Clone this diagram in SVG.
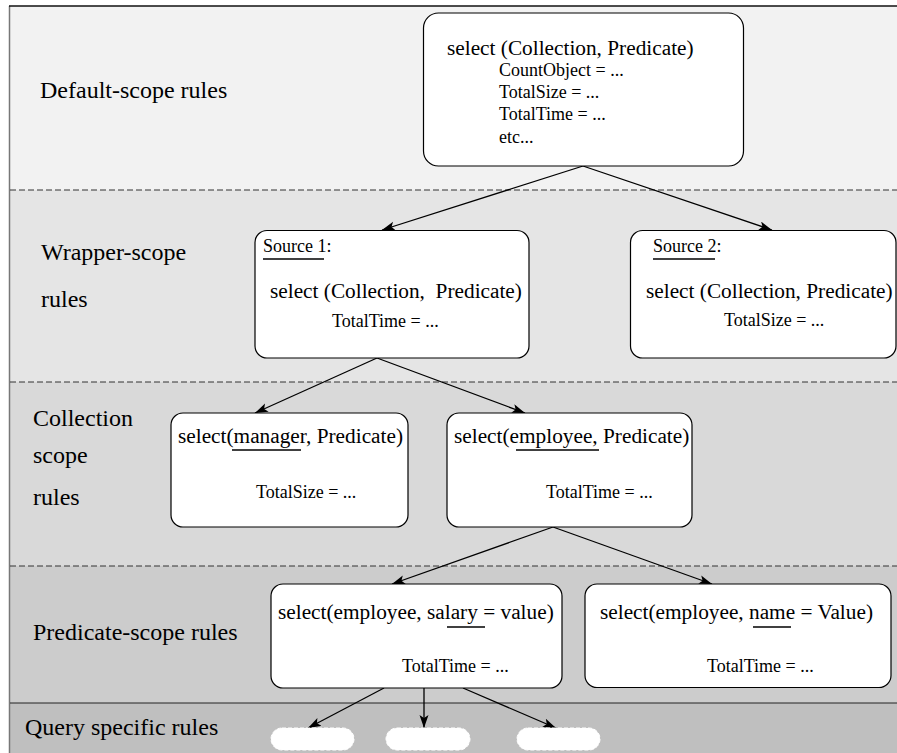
<svg xmlns="http://www.w3.org/2000/svg" width="897" height="753" viewBox="0 0 897 753">
<style>
.lbl{font-family:"Liberation Serif","Times New Roman",serif;font-size:24px;fill:#000}
.t{font-family:"Liberation Serif","Times New Roman",serif;font-size:21.3px;fill:#000;white-space:pre}
.s{font-family:"Liberation Serif","Times New Roman",serif;font-size:18px;fill:#000}
.box{fill:#fff;stroke:#000;stroke-width:1.2}
.ul{stroke:#000;stroke-width:1.6}
.con{stroke:#000;stroke-width:1.3;fill:none;marker-end:url(#ah)}
.sep{stroke:#333;stroke-width:1;stroke-dasharray:6,3}
.pill{fill:#fff;stroke:#fff;stroke-width:1;stroke-dasharray:4,2}
</style>
<defs>
<marker id="ah" markerUnits="userSpaceOnUse" markerWidth="14" markerHeight="10" refX="13" refY="4.5" orient="auto">
<path d="M0,0 L13,4.5 L0,9 L3,4.5 z" fill="#000"/>
</marker>
</defs>
<rect x="0" y="0" width="897" height="753" fill="#fff"/>
<g id="bands">
<rect x="10" y="6" width="887" height="184" fill="#f2f2f2"/>
<rect x="10" y="190" width="887" height="192" fill="#e5e5e5"/>
<rect x="10" y="382" width="887" height="184" fill="#d9d9d9"/>
<rect x="10" y="566" width="887" height="137" fill="#cccccc"/>
<rect x="10" y="703" width="887" height="50" fill="#bfbfbf"/>
<line x1="9.5" y1="6" x2="9.5" y2="753" stroke="#777" stroke-width="1.5"/>
<line x1="9" y1="6" x2="897" y2="6" stroke="#111" stroke-width="1.5"/>
<line class="sep" x1="10" y1="190" x2="897" y2="190"/>
<line class="sep" x1="10" y1="382" x2="897" y2="382"/>
<line class="sep" x1="10" y1="566" x2="897" y2="566"/>
<line x1="10" y1="703" x2="897" y2="703" stroke="#222" stroke-width="1.2"/>
</g>
<g id="labels">
<text class="lbl" x="40" y="98">Default-scope rules</text>
<text class="lbl" x="41" y="260">Wrapper-scope</text>
<text class="lbl" x="41" y="307">rules</text>
<text class="lbl" x="33" y="426">Collection</text>
<text class="lbl" x="33" y="463">scope</text>
<text class="lbl" x="33" y="505">rules</text>
<text class="lbl" x="33" y="640">Predicate-scope rules</text>
<text class="lbl" x="25" y="735">Query specific rules</text>
</g>
<g id="connectors">
<line class="con" x1="583" y1="166" x2="382" y2="230"/>
<line class="con" x1="583" y1="166" x2="772" y2="230"/>
<line class="con" x1="377" y1="358" x2="255" y2="413"/>
<line class="con" x1="377" y1="358" x2="525" y2="413"/>
<line class="con" x1="553" y1="527" x2="392" y2="584"/>
<line class="con" x1="553" y1="527" x2="712" y2="584"/>
<line class="con" x1="384" y1="688" x2="308" y2="728"/>
<line class="con" x1="424" y1="688" x2="424" y2="728"/>
<line class="con" x1="463" y1="688" x2="556" y2="728"/>
</g>
<g id="default-node">
<rect class="box" x="423.5" y="13" width="320" height="153" rx="15"/>
<text class="t" x="447" y="55">select (Collection, Predicate)</text>
<text class="s" x="499" y="76">CountObject = ...</text>
<text class="s" x="499" y="98">TotalSize = ...</text>
<text class="s" x="499" y="120">TotalTime = ...</text>
<text class="s" x="499" y="142.5">etc...</text>
</g>
<g id="source1-node">
<rect class="box" x="255" y="230.5" width="274" height="127.5" rx="12"/>
<text class="s" x="263" y="252">Source 1:</text>
<line class="ul" x1="263" y1="259" x2="324" y2="259"/>
<text class="t" x="270" y="298">select (Collection,  Predicate)</text>
<text class="s" x="332" y="327">TotalTime = ...</text>
</g>
<g id="source2-node">
<rect class="box" x="630.5" y="230.5" width="265.5" height="127.5" rx="12"/>
<text class="s" x="653" y="252">Source 2:</text>
<line class="ul" x1="653" y1="259" x2="715" y2="259"/>
<text class="t" x="646" y="298">select (Collection, Predicate)</text>
<text class="s" x="724" y="326">TotalSize = ...</text>
</g>
<g id="manager-node">
<rect class="box" x="171" y="413" width="237" height="114" rx="12"/>
<text class="t" x="178" y="443">select(manager, Predicate)</text>
<line class="ul" x1="232" y1="450" x2="301" y2="450"/>
<text class="s" x="256" y="498">TotalSize = ...</text>
</g>
<g id="employee-node">
<rect class="box" x="447" y="413" width="245" height="114" rx="12"/>
<text class="t" x="454" y="443">select(employee, Predicate)</text>
<line class="ul" x1="516" y1="450" x2="599" y2="450"/>
<text class="s" x="546" y="498">TotalTime = ...</text>
</g>
<g id="salary-node">
<rect class="box" x="271" y="584" width="291" height="104" rx="12"/>
<text class="t" x="278" y="619">select(employee, salary = value)</text>
<line class="ul" x1="447" y1="627" x2="485" y2="627"/>
<text class="s" x="402" y="672">TotalTime = ...</text>
</g>
<g id="name-node">
<rect class="box" x="585" y="584" width="306" height="103.5" rx="12"/>
<text class="t" x="600" y="619">select(employee, name = Value)</text>
<line class="ul" x1="753" y1="627" x2="791" y2="627"/>
<text class="s" x="707" y="672">TotalTime = ...</text>
</g>
<g id="query-nodes">
<rect class="pill" x="271" y="728" width="83" height="22" rx="11"/>
<rect class="pill" x="386" y="728" width="84" height="22" rx="11"/>
<rect class="pill" x="517" y="728" width="83" height="22" rx="11"/>
</g>
</svg>
